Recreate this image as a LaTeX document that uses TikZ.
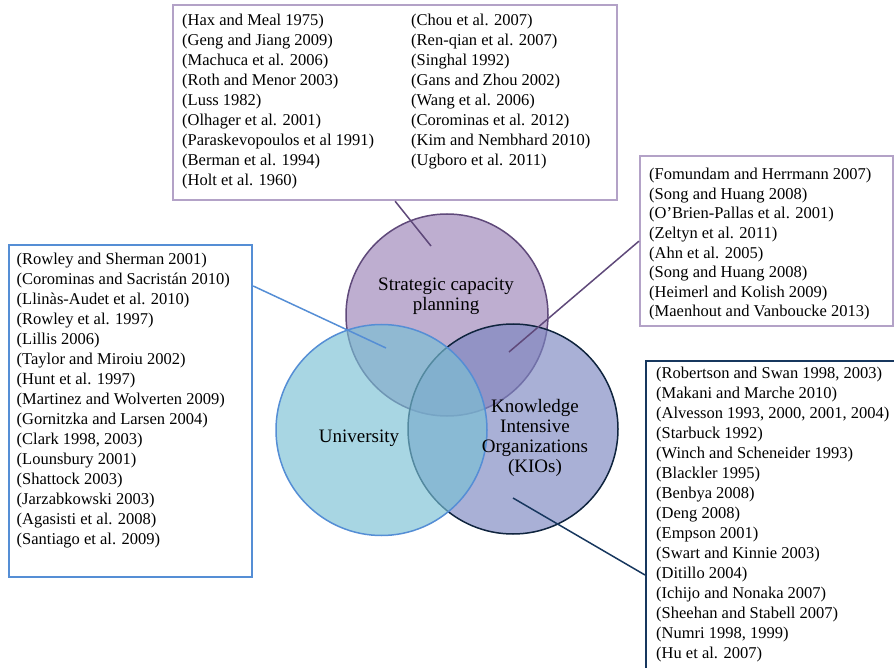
\documentclass[tikz,border=0pt]{standalone}
\usepackage{fontspec}
\setmainfont{Liberation Serif}
\usetikzlibrary{positioning}

\definecolor{lilac}{HTML}{B3A2C7}
\definecolor{scpfill}{HTML}{9B82B7}
\definecolor{scpedge}{HTML}{5F497A}
\definecolor{unifill}{HTML}{79C0D4}
\definecolor{uniedge}{HTML}{558ED5}
\definecolor{kiofill}{HTML}{7B85C0}
\definecolor{kioedge}{HTML}{0F243E}
\definecolor{navy}{HTML}{17375E}

\begin{document}
\begin{tikzpicture}[x=1pt,y=-1pt]
    \tikzset{
    refbox/.style={
        draw,
        line width=2.2pt,
        fill=white,
        anchor=north west,
        inner sep=0pt
    },
    reflist/.style={
        anchor=north west,
        align=left,
        inner sep=0pt,
        font=\fontsize{16.5}{20}\selectfont
    },
    venn/.style={
        circle,
        draw,
        line width=1.5pt,
        fill opacity=0.65,
        inner sep=0pt
    },
    venntext/.style={
        align=center,
        inner sep=0pt,
        font=\fontsize{19}{20}\selectfont
    },
    link/.style={
        line width=1.5pt
    }
}
    \useasboundingbox (0,0) rectangle (894,668);

    \node[venn, draw=scpedge, fill=scpfill, minimum size=202pt] (scp) at (447,315) {};
    \node[venn, draw=kioedge, fill=kiofill, minimum size=210pt] (kio) at (513,429) {};
    \node[venn, draw=uniedge, fill=unifill, minimum size=211pt] (uni) at (381.5,430) {};

    \node[venntext] (scplabel) at (446,296) {Strategic capacity\\planning};
    \node[venntext] (unilabel) at (359,438) {University};
    \node[venntext] (kiolabel) at (535,438) {Knowledge\\Intensive\\Organizations\\(KIOs)};

    \node[refbox, draw=lilac, minimum width=444pt, minimum height=195pt] (scpbox) at (172,4) {};
    \node[reflist] (scprefsA) at (182,14) {(Hax and Meal 1975)\\(Geng and Jiang 2009)\\(Machuca et al. 2006)\\(Roth and Menor 2003)\\(Luss 1982)\\(Olhager et al. 2001)\\(Paraskevopoulos et al 1991)\\(Berman et al. 1994)\\(Holt et al. 1960)};
    \node[reflist] (scprefsB) at (411,14) {(Chou et al. 2007)\\(Ren-qian et al. 2007)\\(Singhal 1992)\\(Gans and Zhou 2002)\\(Wang et al. 2006)\\(Corominas et al. 2012)\\(Kim and Nembhard 2010)\\(Ugboro et al. 2011)};

    \node[refbox, draw=uniedge, minimum width=243pt, minimum height=332pt] (scpunibox) at (8,244) {};
    \node[reflist] (scpunirefs) at (16.5,253) {(Rowley and Sherman 2001)\\(Corominas and Sacristán 2010)\\(Llinàs-Audet et al. 2010)\\(Rowley et al. 1997)\\(Lillis 2006)\\(Taylor and Miroiu 2002)\\(Hunt et al. 1997)\\(Martinez and Wolverten 2009)\\(Gornitzka and Larsen 2004)\\(Clark 1998, 2003)\\(Lounsbury 2001)\\(Shattock 2003)\\(Jarzabkowski 2003)\\(Agasisti et al. 2008)\\(Santiago et al. 2009)};

    \node[refbox, draw=lilac, minimum width=253pt, minimum height=170pt] (scpkiobox) at (639,155) {};
    \node[reflist, font=\fontsize{16.5}{19.6}\selectfont] (scpkiorefs) at (649,168) {(Fomundam and Herrmann 2007)\\(Song and Huang 2008)\\(O’Brien-Pallas et al. 2001)\\(Zeltyn et al. 2011)\\(Ahn et al. 2005)\\(Song and Huang 2008)\\(Heimerl and Kolish 2009)\\(Maenhout and Vanboucke 2013)};

    \node[refbox, draw=navy, minimum width=260pt, minimum height=320pt] (kiobox) at (645,360) {};
    \node[reflist] (kiorefs) at (656,367) {(Robertson and Swan 1998, 2003)\\(Makani and Marche 2010)\\(Alvesson 1993, 2000, 2001, 2004)\\(Starbuck 1992)\\(Winch and Scheneider 1993)\\(Blackler 1995)\\(Benbya 2008)\\(Deng 2008)\\(Empson 2001)\\(Swart and Kinnie 2003)\\(Ditillo 2004)\\(Ichijo and Nonaka 2007)\\(Sheehan and Stabell 2007)\\(Numri 1998, 1999)\\(Hu et al. 2007)};

    \coordinate (scptip) at (431,246);
    \coordinate (scpunitip) at (386,348);
    \coordinate (scpkiotip) at (509,352);
    \coordinate (kiotip) at (513,498);

    \draw[link, scpedge] (scpbox.south) -- (scptip);
    \draw[link, uniedge] ([yshift=-42pt]scpunibox.north east) -- (scpunitip);
    \draw[link, scpedge] (scpkiobox.west) -- (scpkiotip);
    \draw[link, navy] ([yshift=-215pt]kiobox.north west) -- (kiotip);
\end{tikzpicture}
\end{document}
